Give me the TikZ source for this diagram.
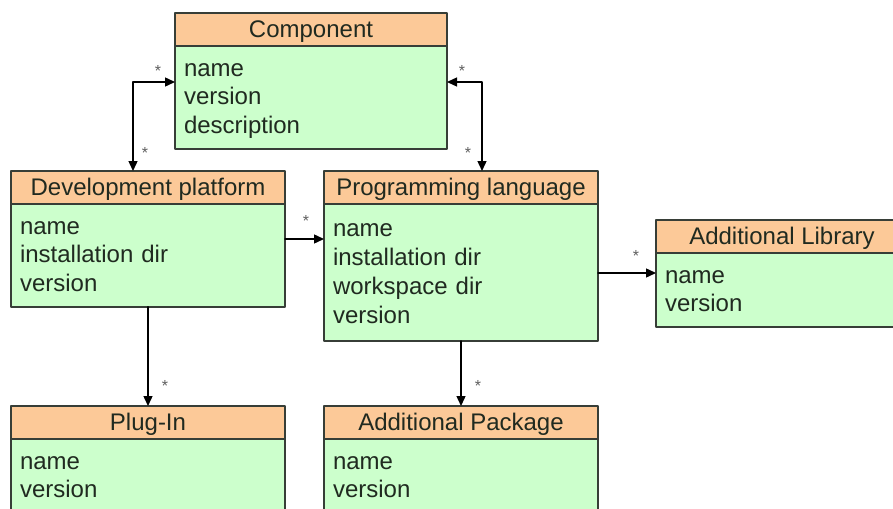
\documentclass[tikz,border=0pt]{standalone}
\usepackage{fontspec}
\setmainfont{Liberation Sans}
\usepackage{tikz}
\usetikzlibrary{arrows.meta}
\definecolor{hdrfill}{RGB}{252,201,152}
\definecolor{attrfill}{RGB}{204,255,204}
\definecolor{boxline}{RGB}{55,62,55}
\definecolor{boxtext}{RGB}{32,42,32}
\definecolor{multcol}{RGB}{95,95,95}
\tikzset{
  hdr/.style={draw=boxline,line width=0.9pt,fill=hdrfill,anchor=north west,
    minimum height=16.5pt,inner sep=0pt,outer sep=0pt,text=boxtext,
    text height=10.5pt,text depth=2.5pt},
  attr/.style={draw=boxline,line width=0.9pt,fill=attrfill,anchor=north west,
    align=left,inner xsep=4.5pt,inner ysep=4pt,outer sep=0pt,text=boxtext,
    execute at begin node=\rule{0pt}{11pt},
    execute at end node=\rule[-3.6pt]{0pt}{0pt}},
  mult/.style={text=multcol,font=\fontsize{8}{8}\selectfont,inner sep=0pt}
}

\begin{document}
\begin{tikzpicture}[line cap=round,line join=round,>={Triangle[length=5pt,width=4.5pt]},
  x=0.5pt,y=-0.5pt,font=\fontsize{12}{14.4}\selectfont]

\useasboundingbox (0,0) rectangle (893,508);
\clip (0,0) rectangle (893,508);
\fill[white] (0,0) rectangle (893,508);

% classes
\node[hdr,minimum width=136pt] (comp-h) at (175,13) {Component};
\node[attr,text width=127pt] (comp-b) at (comp-h.south west) {name\\version\\description};

\node[hdr,minimum width=137pt] (dev-h) at (11,171) {Development platform};
\node[attr,text width=128pt] (dev-b) at (dev-h.south west) {name\\installation dir\\version};

\node[hdr,minimum width=137pt] (lang-h) at (324,171) {Programming language};
\node[attr,text width=128pt,minimum height=68.5pt] (lang-b) at (lang-h.south west) {name\\installation dir\\workspace dir\\version};

\node[hdr,minimum width=126pt] (lib-h) at (656,220) {Additional Library};
\node[attr,text width=117pt] (lib-b) at (lib-h.south west) {name\\version};

\node[hdr,minimum width=137pt] (plug-h) at (11,406) {Plug-In};
\node[attr,text width=128pt] (plug-b) at (plug-h.south west) {name\\version};

\node[hdr,minimum width=137pt] (pack-h) at (324,406) {Additional Package};
\node[attr,text width=128pt] (pack-b) at (pack-h.south west) {name\\version};

% associations
\coordinate (cl) at (133,82);
\coordinate (cr) at (482,82);
\coordinate (dl) at (300,239);
\coordinate (ll) at (620,273);
\begin{scope}[line width=0.7pt]
\draw[<->] (comp-b.west |- cl) -- (cl) -- (dev-h.north -| cl);
\draw[<->] (comp-b.east |- cr) -- (cr) -- (lang-h.north -| cr);
\draw[->] (dev-b.east |- dl) -- (lang-b.west |- dl);
\draw[->] (lang-b.east |- ll) -- (lib-b.west |- ll);
\draw[->] (dev-b.south) -- (plug-h.north);
\draw[->] (lang-b.south) -- (pack-h.north);
\end{scope}

% multiplicities
\node[mult] (m1) at (158,71) {*};
\node[mult] (m2) at (145,153) {*};
\node[mult] (m3) at (462,71) {*};
\node[mult] (m4) at (468,153) {*};
\node[mult] (m5) at (306,221) {*};
\node[mult] (m6) at (636,256) {*};
\node[mult] (m7) at (165,386) {*};
\node[mult] (m8) at (478,386) {*};

\end{tikzpicture}
\end{document}
